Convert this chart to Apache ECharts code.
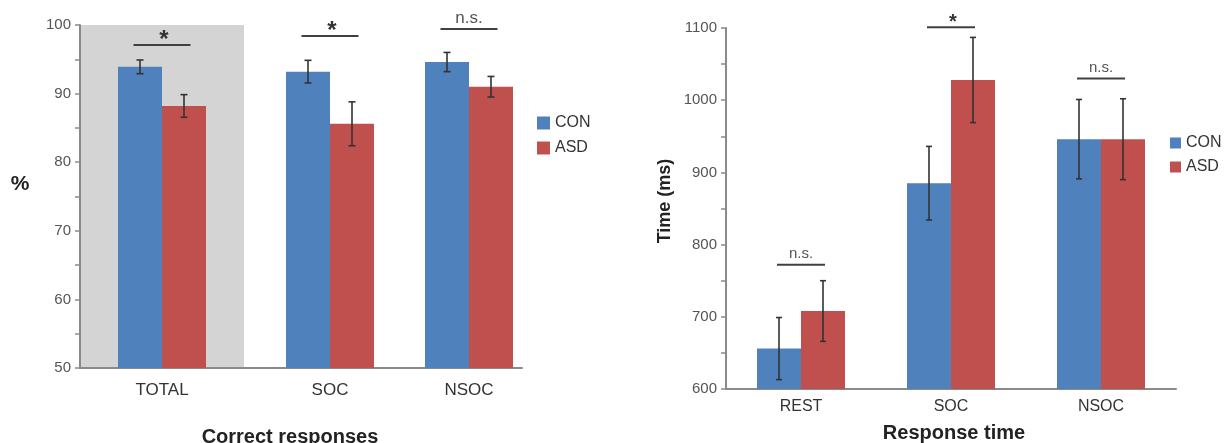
<!DOCTYPE html>
<html>
<head>
<meta charset="utf-8">
<script src="https://cdn.jsdelivr.net/npm/echarts@6/dist/echarts.min.js"></script>
<style>
html,body{margin:0;padding:0;background:#fff;}
#chart{width:1224px;height:443px;}
</style>
</head>
<body>
<div id="chart"></div>
<script>
// ---------- data ----------
const leftCategories = ['TOTAL', 'SOC', 'NSOC'];
const leftCon = [93.9, 93.2, 94.6];
const leftConErr = [1.0, 1.65, 1.4];
const leftAsd = [88.2, 85.6, 91.0];
const leftAsdErr = [1.65, 3.2, 1.5];
const leftSigText = ['*', '*', 'n.s.'];
const leftSigLevel = [97.1, 98.4, 99.4];
const leftTicks = [50, 60, 70, 80, 90, 100];

const rightCategories = ['REST', 'SOC', 'NSOC'];
const rightCon = [656, 885, 946];
const rightConErr = [43, 51, 55];
const rightAsd = [708, 1028, 946];
const rightAsdErr = [42, 59, 56];
const rightSigText = ['n.s.', '*', 'n.s.'];
const rightSigLevel = [772, 1101, 1030];
const rightTicks = [600, 700, 800, 900, 1000, 1100];

const groupNames = ['CON', 'ASD'];

// ---------- styles ----------
const FONT = '"Liberation Sans", Arial, sans-serif';
const BLUE = '#4F81BD';
const RED = '#C0504D';
const AXIS = '#8a8a8a';
const BAR_W = 44;

const charts = [
  {
    cats: leftCategories, con: leftCon, conErr: leftConErr, asd: leftAsd, asdErr: leftAsdErr,
    sig: leftSigText, sigLevel: leftSigLevel, ticks: leftTicks, minorStep: 5,
    grids: [{left: 80, width: 164, bg: '#d4d4d4'}, {left: 244, width: 172}, {left: 416, width: 106}],
    top: 25, height: 343, catFont: 17, catMargin: 14, tickFont: 15,
    starFont: 24, nsFont: 17, bracketHalf: 28.5, capHalf: 3.5
  },
  {
    cats: rightCategories, con: rightCon, conErr: rightConErr, asd: rightAsd, asdErr: rightAsdErr,
    sig: rightSigText, sigLevel: rightSigLevel, ticks: rightTicks, minorStep: 50,
    grids: [{left: 726, width: 150}, {left: 876, width: 150}, {left: 1026, width: 150}],
    top: 28, height: 361, catFont: 16, catMargin: 10, tickFont: 15,
    starFont: 20, nsFont: 15, bracketHalf: 24, capHalf: 3
  }
];

const grid = [], xAxis = [], yAxis = [], series = [];
let gi = 0;
charts.forEach(function (c) {
  const tmin = c.ticks[0], tmax = c.ticks[c.ticks.length - 1];
  const labelStep = c.ticks[1] - c.ticks[0];
  c.grids.forEach(function (g, k) {
    grid.push({
      left: g.left, width: g.width, top: c.top, height: c.height,
      show: !!g.bg, backgroundColor: g.bg || 'transparent', borderWidth: 0
    });
    xAxis.push({
      type: 'category', gridIndex: gi, data: [c.cats[k]],
      axisLine: {show: true, lineStyle: {color: AXIS, width: 2}},
      axisTick: {show: false},
      axisLabel: {color: '#333', fontSize: c.catFont, fontFamily: FONT, margin: c.catMargin},
      splitLine: {show: false}
    });
    yAxis.push({
      type: 'value', gridIndex: gi, min: tmin, max: tmax, interval: c.minorStep,
      show: k === 0,
      axisLine: {show: true, lineStyle: {color: AXIS, width: 2}},
      axisTick: {show: true, length: 5, lineStyle: {color: AXIS, width: 1.5}},
      axisLabel: {
        color: '#555', fontSize: c.tickFont, fontFamily: FONT, margin: 9,
        formatter: function (v) { return (v - tmin) % labelStep === 0 ? String(v) : ''; }
      },
      splitLine: {show: false}
    });
    series.push({
      type: 'bar', name: groupNames[0], xAxisIndex: gi, yAxisIndex: gi,
      data: [c.con[k]], barWidth: BAR_W, barGap: '0%', itemStyle: {color: BLUE}, z: 2
    });
    series.push({
      type: 'bar', name: groupNames[1], xAxisIndex: gi, yAxisIndex: gi,
      data: [c.asd[k]], barWidth: BAR_W, barGap: '0%', itemStyle: {color: RED}, z: 2
    });
    // error bars
    series.push({
      type: 'custom', xAxisIndex: gi, yAxisIndex: gi, z: 5, silent: true,
      data: [[0, c.con[k], c.conErr[k], 0], [0, c.asd[k], c.asdErr[k], 1]],
      encode: {x: 0, y: 1},
      renderItem: function (params, api) {
        const v = api.value(1), e = api.value(2), side = api.value(3);
        const p = api.coord([0, v]);
        const cx = p[0] + (side === 0 ? -BAR_W / 2 : BAR_W / 2);
        const yt = api.coord([0, v + e])[1];
        const yb = api.coord([0, v - e])[1];
        const st = {stroke: '#333', lineWidth: 1.6};
        return {
          type: 'group', children: [
            {type: 'line', shape: {x1: cx, y1: yt, x2: cx, y2: yb}, style: st},
            {type: 'line', shape: {x1: cx - c.capHalf, y1: yt, x2: cx + c.capHalf, y2: yt}, style: st},
            {type: 'line', shape: {x1: cx - c.capHalf, y1: yb, x2: cx + c.capHalf, y2: yb}, style: st}
          ]
        };
      }
    });
    // significance bracket
    const txt = c.sig[k];
    series.push({
      type: 'custom', xAxisIndex: gi, yAxisIndex: gi, z: 5, silent: true, clip: false,
      data: [[0, c.sigLevel[k]]],
      encode: {x: 0, y: 1},
      renderItem: function (params, api) {
        const p = api.coord([0, api.value(1)]);
        const star = txt === '*';
        return {
          type: 'group', children: [
            {type: 'line', shape: {x1: p[0] - c.bracketHalf, y1: p[1], x2: p[0] + c.bracketHalf, y2: p[1]},
              style: {stroke: '#404040', lineWidth: 2}},
            {type: 'text', style: {
              text: txt, x: p[0] + (star ? 2 : 0), y: p[1] - (star ? 5 : 11),
              align: 'center', verticalAlign: 'middle',
              fontSize: star ? c.starFont : c.nsFont, fontFamily: FONT,
              fontWeight: star ? 'bold' : 'normal',
              fill: star ? '#333' : '#555'
            }}
          ]
        };
      }
    });
    gi++;
  });
});

const option = {
  backgroundColor: '#fff',
  animation: false,
  grid: grid, xAxis: xAxis, yAxis: yAxis, series: series,
  legend: [
    {data: groupNames, orient: 'vertical', left: 532, top: 110, itemWidth: 13, itemHeight: 13,
      itemGap: 9, selectedMode: false, icon: 'rect',
      textStyle: {fontSize: 16, fontFamily: FONT, color: '#333'}},
    {data: groupNames, orient: 'vertical', left: 1165, top: 130, itemWidth: 11, itemHeight: 11,
      itemGap: 8, selectedMode: false, icon: 'rect',
      textStyle: {fontSize: 16, fontFamily: FONT, color: '#333'}}
  ],
  graphic: [
    {type: 'text', x: 20, y: 184, style: {text: '%', fontSize: 21, fontWeight: 'bold', fontFamily: FONT,
      fill: '#222', align: 'center', verticalAlign: 'middle'}},
    {type: 'text', x: 290, y: 437, style: {text: 'Correct responses', fontSize: 20, fontWeight: 'bold',
      fontFamily: FONT, fill: '#222', align: 'center', verticalAlign: 'middle'}},
    {type: 'text', x: 665, y: 201, rotation: Math.PI / 2, style: {text: 'Time (ms)', fontSize: 18,
      fontWeight: 'bold', fontFamily: FONT, fill: '#222', align: 'center', verticalAlign: 'middle'}},
    {type: 'text', x: 954, y: 433, style: {text: 'Response time', fontSize: 20, fontWeight: 'bold',
      fontFamily: FONT, fill: '#222', align: 'center', verticalAlign: 'middle'}}
  ]
};

const chart = echarts.init(document.getElementById('chart'), null, {renderer: 'canvas'});
chart.setOption(option);
</script>
</body>
</html>
